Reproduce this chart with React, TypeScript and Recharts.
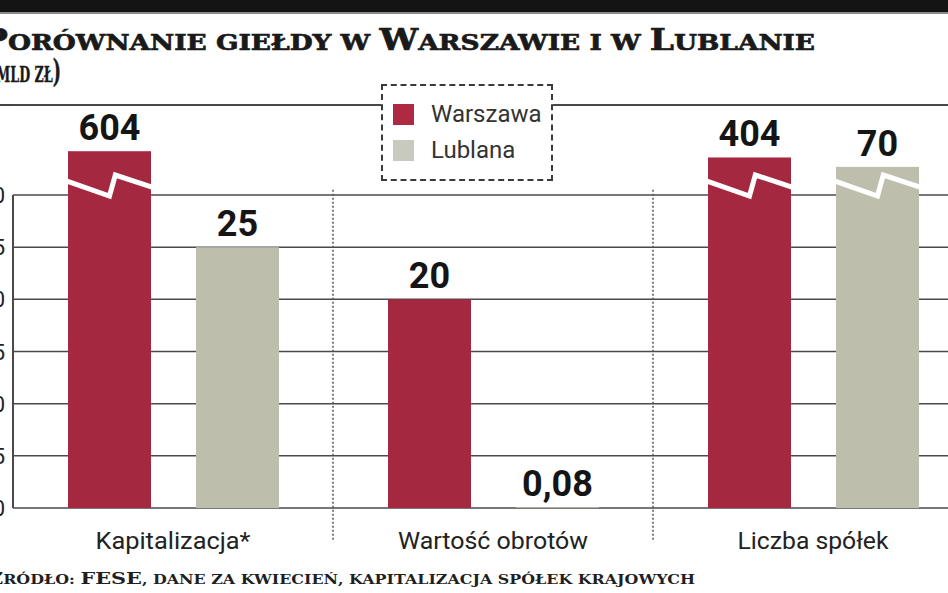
import React from 'react';
import {
  BarChart,
  Bar,
  XAxis,
  YAxis,
  CartesianGrid,
  ReferenceLine,
  LabelList,
  Legend,
} from 'recharts';

const categories = ['Kapitalizacja*', 'Wartość obrotów', 'Liczba spółek'];
const seriesNames = ['Warszawa', 'Lublana'];
const warszawa = [604, 20, 404];
const lublana = [25, 0.08, 70];
// heights the bars are drawn at: anything above the 0-30 scale is cut with a break mark
const warszawaShown = [34.2, 20, 33.6];
const lublanaShown = [25, 0.08, 32.7];
const yTicks = [0, 5, 10, 15, 20, 25, 30];

const SCALE_TOP = 30;
const RED = '#a4283f';
const GREY = '#bebead';

const data = categories.map((name, i) => ({
  name,
  warszawa: warszawa[i],
  lublana: lublana[i],
  warszawaShown: warszawaShown[i],
  lublanaShown: lublanaShown[i],
}));

const labelWidths: Record<string, number> = {
  'Kapitalizacja*': 155,
  'Wartość obrotów': 190,
  'Liczba spółek': 151,
};

const fmt = (v: number) => String(v).replace('.', ',');

// split a string into small-caps runs (real capitals big, the rest small)
function smallCaps(text: string, big: number, small: number, bigChars = '') {
  const runs: { size: number; s: string }[] = [];
  for (const ch of text) {
    const isBig = ch !== ch.toLowerCase() || bigChars.includes(ch);
    const size = isBig ? big : small;
    const last = runs[runs.length - 1];
    if (last && last.size === size) last.s += ch.toUpperCase();
    else runs.push({ size, s: ch.toUpperCase() });
  }
  return runs.map((r, i) => (
    <tspan key={i} fontSize={r.size}>
      {r.s}
    </tspan>
  ));
}

function BrokenBar(props: any) {
  const { x, y, width, height, fill, real, shown } = props;
  if (height == null || height <= 0) return null;
  const rect = <rect x={x} y={y} width={width} height={height} fill={fill} />;
  if (real <= shown) return rect;
  const unit = height / shown;
  const yb = y + height - SCALE_TOP * unit;
  const pts = [
    [x - 1, yb - 14],
    [x + width * 0.5, yb + 1],
    [x + width * 0.57, yb - 20],
    [x + width + 1, yb - 8],
  ]
    .map((p) => p.join(','))
    .join(' ');
  return (
    <g>
      {rect}
      <polyline points={pts} fill="none" stroke="#fff" strokeWidth={5} strokeLinejoin="miter" />
    </g>
  );
}

const CategoryTick = ({ x, y, payload }: any) => (
  <text
    x={x}
    y={y + 41}
    textAnchor="middle"
    fontFamily="Roboto, sans-serif"
    fontSize={24}
    fill="#222"
    textLength={labelWidths[payload.value]}
    lengthAdjust="spacingAndGlyphs"
  >
    {payload.value}
  </text>
);

const ValueTick = ({ x, y, payload }: any) => (
  <text x={x} y={y} dy={8} textAnchor="end" fontFamily="Roboto, sans-serif" fontSize={22} fill="#222">
    {payload.value}
  </text>
);

const swatch: Record<string, string> = { Warszawa: '#ad2a42', Lublana: '#c9cabf' };

const LegendBox = ({ payload }: any) => {
  const items = seriesNames
    .map((n) => (payload || []).find((e: any) => e.value === n))
    .filter(Boolean);
  return (
    <div
      style={{
        boxSizing: 'border-box',
        width: 172,
        height: 97,
        border: '2px dashed #3a3a3a',
        background: '#fff',
        padding: '10px 0 0 10px',
        fontFamily: 'Roboto, sans-serif',
        fontSize: 24,
        color: '#333',
      }}
    >
      {items.map((e: any) => (
        <div key={e.value} style={{ display: 'flex', alignItems: 'center', height: 36 }}>
          <span
            style={{
              display: 'inline-block',
              width: 21,
              height: 21,
              background: swatch[e.value] || e.color,
              marginRight: 17,
            }}
          />
          {e.value}
        </div>
      ))}
    </div>
  );
};

export default function App() {
  return (
    <div
      style={{
        position: 'fixed',
        left: 0,
        top: 0,
        width: 948,
        height: 593,
        overflow: 'hidden',
        background: '#fff',
      }}
    >
      <div style={{ position: 'absolute', left: 0, top: 0, width: 948, height: 12, background: '#141414' }} />
      <div style={{ position: 'absolute', left: 0, top: 12, width: 948, height: 2, background: '#8a8a8a' }} />
      <div style={{ position: 'absolute', left: 0, top: 104, width: 948, height: 2, background: '#444' }} />
      <svg style={{ position: 'absolute', left: 0, top: 0 }} width={948} height={100}>
        <text
          x={-18}
          y={50}
          fontFamily="'DejaVu Serif', serif"
          fontWeight={700}
          fill="#1a1a1a"
          stroke="#1a1a1a"
          strokeWidth={0.7}
          textLength={833}
          lengthAdjust="spacingAndGlyphs"
        >
          {smallCaps('Porównanie giełdy w Warszawie i w Lublanie', 30, 23)}
        </text>
        <text
          x={-12}
          y={82}
          fontFamily="'DejaVu Serif', serif"
          fontWeight={700}
          fill="#1a1a1a"
          stroke="#1a1a1a"
          strokeWidth={0.4}
          textLength={73}
          lengthAdjust="spacingAndGlyphs"
        >
          {smallCaps('(mld zł)', 32, 23, '()')}
        </text>
      </svg>
      <div style={{ position: 'absolute', left: 0, top: 0 }}>
        <BarChart
          width={973}
          height={593}
          data={data}
          margin={{ top: 105, right: 0, bottom: 45, left: 0 }}
          barSize={83}
          barGap={45}
        >
          <CartesianGrid vertical={false} stroke="#4a4a4a" strokeWidth={1.5} />
          <XAxis
            dataKey="name"
            height={40}
            axisLine={false}
            tickLine={false}
            tickSize={0}
            tickMargin={0}
            tick={<CategoryTick />}
            interval={0}
          />
          <YAxis
            width={13}
            domain={[0, 38.63]}
            ticks={yTicks}
            axisLine={false}
            tickLine={false}
            tickSize={0}
            tickMargin={8}
            tick={<ValueTick />}
            allowDataOverflow
          />
          <ReferenceLine
            segment={[
              { x: categories[0], y: 0 },
              { x: categories[0], y: 30 },
            ]}
            position="start"
            stroke="#4a4a4a"
            strokeWidth={2}
            ifOverflow="visible"
          />
          {categories.slice(1).map((c) => (
            <ReferenceLine
              key={c}
              segment={[
                { x: c, y: 30.5 },
                { x: c, y: -3.2 },
              ]}
              position="start"
              stroke="#555"
              strokeWidth={1.5}
              strokeDasharray="2 2"
              ifOverflow="visible"
            />
          ))}
          <Legend
            layout="horizontal"
            verticalAlign="middle"
            align="center"
            content={<LegendBox />}
            wrapperStyle={{ left: 381, top: 84, width: 172, height: 97 }}
          />
          <Bar
            dataKey="warszawaShown"
            name="Warszawa"
            fill={RED}
            legendType="square"
            isAnimationActive={false}
            shape={(p: any) => <BrokenBar {...p} real={p.payload.warszawa} shown={p.payload.warszawaShown} />}
          >
            <LabelList
              dataKey="warszawa"
              position="top"
              offset={11}
              formatter={fmt}
              fill="#151515"
              fontSize={36}
              fontWeight={700}
              fontFamily="Roboto, sans-serif"
            />
          </Bar>
          <Bar
            dataKey="lublanaShown"
            name="Lublana"
            fill={GREY}
            legendType="square"
            isAnimationActive={false}
            shape={(p: any) => <BrokenBar {...p} real={p.payload.lublana} shown={p.payload.lublanaShown} />}
          >
            <LabelList
              dataKey="lublana"
              position="top"
              offset={11}
              formatter={fmt}
              fill="#151515"
              fontSize={36}
              fontWeight={700}
              fontFamily="Roboto, sans-serif"
            />
          </Bar>
        </BarChart>
      </div>
      <svg style={{ position: 'absolute', left: 0, top: 560 }} width={948} height={33}>
        <text
          x={-12}
          y={24}
          fontFamily="'DejaVu Serif', serif"
          fontWeight={700}
          fill="#1f1f1f"
          textLength={707}
          lengthAdjust="spacingAndGlyphs"
        >
          {smallCaps('Źródło: FESE, dane za kwiecień, kapitalizacja spółek krajowych', 17, 13)}
        </text>
      </svg>
    </div>
  );
}
